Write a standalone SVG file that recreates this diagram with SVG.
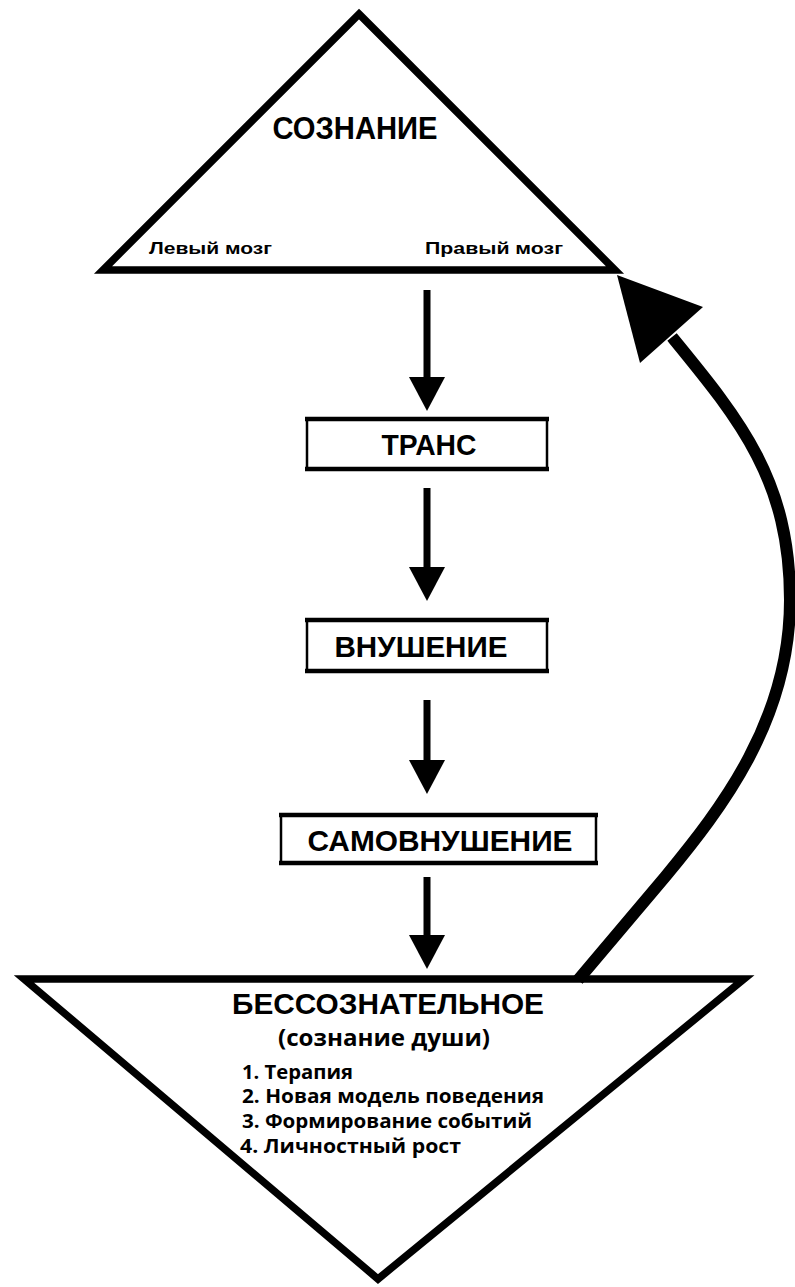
<svg xmlns="http://www.w3.org/2000/svg" width="795" height="1287" viewBox="0 0 795 1287">
  <style>
    .shape { fill: #fff; stroke: #000; stroke-linejoin: miter; stroke-miterlimit: 12; }
    .tri { stroke-width: 7.5; }
    .box { fill: #fff; stroke: #000; stroke-width: 2.5; }
    .edge { stroke: #000; stroke-width: 4.5; }
    .shaft { stroke: #000; stroke-width: 7; fill: none; }
    .head { fill: #000; }
    .title { font-family: "Liberation Sans", Arial, sans-serif; font-weight: bold; fill: #000; }
    .note { font-family: "Open Sans", "Liberation Sans", sans-serif; font-weight: bold; fill: #000; }
  </style>

  <rect width="795" height="1287" fill="#fff"/>

  <!-- upper triangle: consciousness -->
  <g id="node-consciousness">
    <polygon class="shape tri" points="359,14 615,270 103,270"/>
    <text class="title" x="355" y="139" font-size="32" text-anchor="middle" textLength="165" lengthAdjust="spacingAndGlyphs">СОЗНАНИЕ</text>
    <text class="title" x="149" y="254" font-size="17" textLength="123" lengthAdjust="spacingAndGlyphs">Левый мозг</text>
    <text class="title" x="425" y="254" font-size="17" textLength="138" lengthAdjust="spacingAndGlyphs">Правый мозг</text>
  </g>

  <!-- trance -->
  <g id="node-trance">
    <rect class="box" x="307" y="419" width="240" height="50"/>
    <line class="edge" x1="305" y1="419" x2="549" y2="419"/>
    <line class="edge" x1="305" y1="469" x2="549" y2="469"/>
    <text class="title" x="429" y="455" font-size="30" text-anchor="middle" textLength="95" lengthAdjust="spacingAndGlyphs">ТРАНС</text>
  </g>

  <!-- suggestion -->
  <g id="node-suggestion">
    <rect class="box" x="307" y="620" width="240" height="51"/>
    <line class="edge" x1="305" y1="620" x2="549" y2="620"/>
    <line class="edge" x1="305" y1="671" x2="549" y2="671"/>
    <text class="title" x="421" y="657" font-size="30" text-anchor="middle" textLength="173" lengthAdjust="spacingAndGlyphs">ВНУШЕНИЕ</text>
  </g>

  <!-- self-suggestion -->
  <g id="node-self-suggestion">
    <rect class="box" x="281" y="815" width="315" height="48"/>
    <line class="edge" x1="279" y1="815" x2="598" y2="815"/>
    <line class="edge" x1="279" y1="863" x2="598" y2="863"/>
    <text class="title" x="440" y="851" font-size="30" text-anchor="middle" textLength="265" lengthAdjust="spacingAndGlyphs">САМОВНУШЕНИЕ</text>
  </g>

  <!-- lower triangle: the unconscious -->
  <g id="node-unconscious">
    <polygon class="shape tri" points="24,979 744,979 378,1279"/>
    <text class="title" x="388" y="1014" font-size="30" text-anchor="middle" textLength="312" lengthAdjust="spacingAndGlyphs">БЕССОЗНАТЕЛЬНОЕ</text>
    <text class="note" x="384" y="1046" font-size="23" text-anchor="middle" textLength="212" lengthAdjust="spacingAndGlyphs">(сознание души)</text>
    <text class="note" x="242" y="1079" font-size="19" textLength="111" lengthAdjust="spacingAndGlyphs">1. Терапия</text>
    <text class="note" x="242" y="1103" font-size="19" textLength="302" lengthAdjust="spacingAndGlyphs">2. Новая модель поведения</text>
    <text class="note" x="242" y="1128" font-size="19" textLength="290" lengthAdjust="spacingAndGlyphs">3. Формирование событий</text>
    <text class="note" x="240" y="1153" font-size="19" textLength="221" lengthAdjust="spacingAndGlyphs">4. Личностный рост</text>
  </g>

  <!-- connectors -->
  <g id="connectors">
    <line class="shaft" x1="427" y1="290" x2="427" y2="380"/>
    <polygon class="head" points="409,377 445,377 427,411"/>

    <line class="shaft" x1="427" y1="488" x2="427" y2="570"/>
    <polygon class="head" points="409,567 445,567 427,601"/>

    <line class="shaft" x1="427" y1="700" x2="427" y2="763"/>
    <polygon class="head" points="409,760 445,760 427,794"/>

    <line class="shaft" x1="427" y1="877" x2="427" y2="938"/>
    <polygon class="head" points="409,935 445,935 427,969"/>

    <!-- feedback loop back to consciousness -->
    <path class="shaft" style="stroke-width:12" d="M 578 980 L 665 877 C 722 808, 790 720, 790 600 C 790 480, 740 420, 672 337"/>
    <polygon class="head" points="617,275 703,307 640,363"/>
  </g>
</svg>
